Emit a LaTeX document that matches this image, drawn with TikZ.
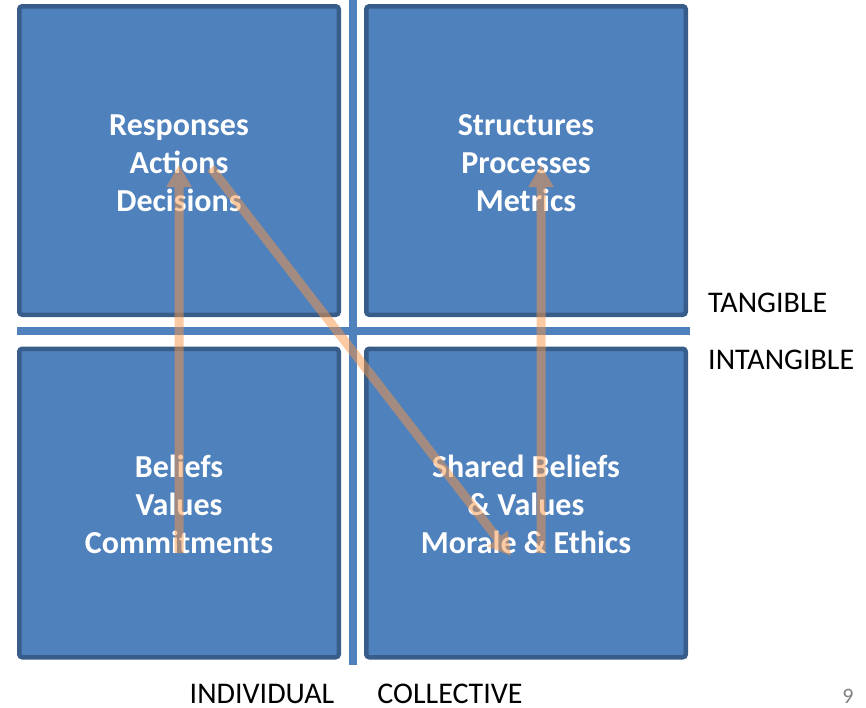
\documentclass[tikz,border=0pt]{standalone}
\usepackage{fontspec}
\setmainfont{Carlito}
\usetikzlibrary{arrows.meta,positioning}

\definecolor{quadfill}{HTML}{4F81BD}
\definecolor{quadline}{HTML}{385D8A}
\definecolor{flowarrow}{HTML}{F79646}

\begin{document}
\begin{tikzpicture}[x=1pt, y=-1pt]
    \tikzstyle{quadrant}  = [draw=quadline, fill=quadfill, line width=4.5pt, rounded corners=3pt, minimum width=319.5pt, minimum height=308.5pt, inner sep=0pt]
    \tikzstyle{quadtext}  = [text=white, align=center, inner sep=0pt, font=\bfseries\fontsize{32}{38}\selectfont]
    \tikzstyle{axislabel} = [font=\fontsize{30}{34}\selectfont, inner sep=0pt]
    \tikzstyle{influence} = [line width=9pt, draw=flowarrow, fill=flowarrow, -{Triangle[width=24pt, length=22pt]}]

    \useasboundingbox (0,0) rectangle (866,707);

    % Dividers between the quadrants
    \fill[quadfill] (349,0) rectangle (357,665);
    \fill[quadfill] (17,327) rectangle (690,335);

    % Quadrants
    \node [quadrant] (resp)    at (179,160.5) {};
    \node [quadrant] (struct)  at (526,160.5) {};
    \node [quadrant] (beliefs) at (179,503)   {};
    \node [quadrant] (shared)  at (526,503)   {};

    % Quadrant texts
    \node [quadtext] (resp-text)    at (179,163.5) {Responses\\Actions\\Decisions};
    \node [quadtext] (struct-text)  at (526,163.5) {Structures\\Processes\\Metrics};
    \node [quadtext] (beliefs-text) at (179,504.5) {Beliefs\\Values\\Commitments};
    \node [quadtext] (shared-text)  at (526,504.5) {Shared Beliefs\\\& Values\\Morale \& Ethics};

    % Axis labels
    \node [axislabel, anchor=west] (tangible)   at (708,303) {TANGIBLE};
    \node [axislabel, anchor=west] (intangible) at (708,360) {INTANGIBLE};
    \node [axislabel] (individual) at (262,694) {INDIVIDUAL};
    \node [axislabel] (collective) at (450,694) {COLLECTIVE};
    \node [font=\fontsize{22}{26}\selectfont, text=gray, inner sep=0pt] (pageno) at (848,696) {9};

    % Arrow ends
    \coordinate (beliefs-tail) at (179,553);
    \coordinate (resp-tip)     at (179,165);
    \coordinate (resp-tail)    at (211,168);
    \coordinate (shared-tip)   at (511,556);
    \coordinate (shared-tail)  at (541,553);
    \coordinate (struct-tip)   at (541,165);

    % Influence arrows
    \begin{scope}[transparency group, opacity=0.5]
        \draw [influence] (beliefs-tail) -- (resp-tip);
        \draw [influence] (resp-tail) -- (shared-tip);
        \draw [influence] (shared-tail) -- (struct-tip);
    \end{scope}
\end{tikzpicture}
\end{document}
